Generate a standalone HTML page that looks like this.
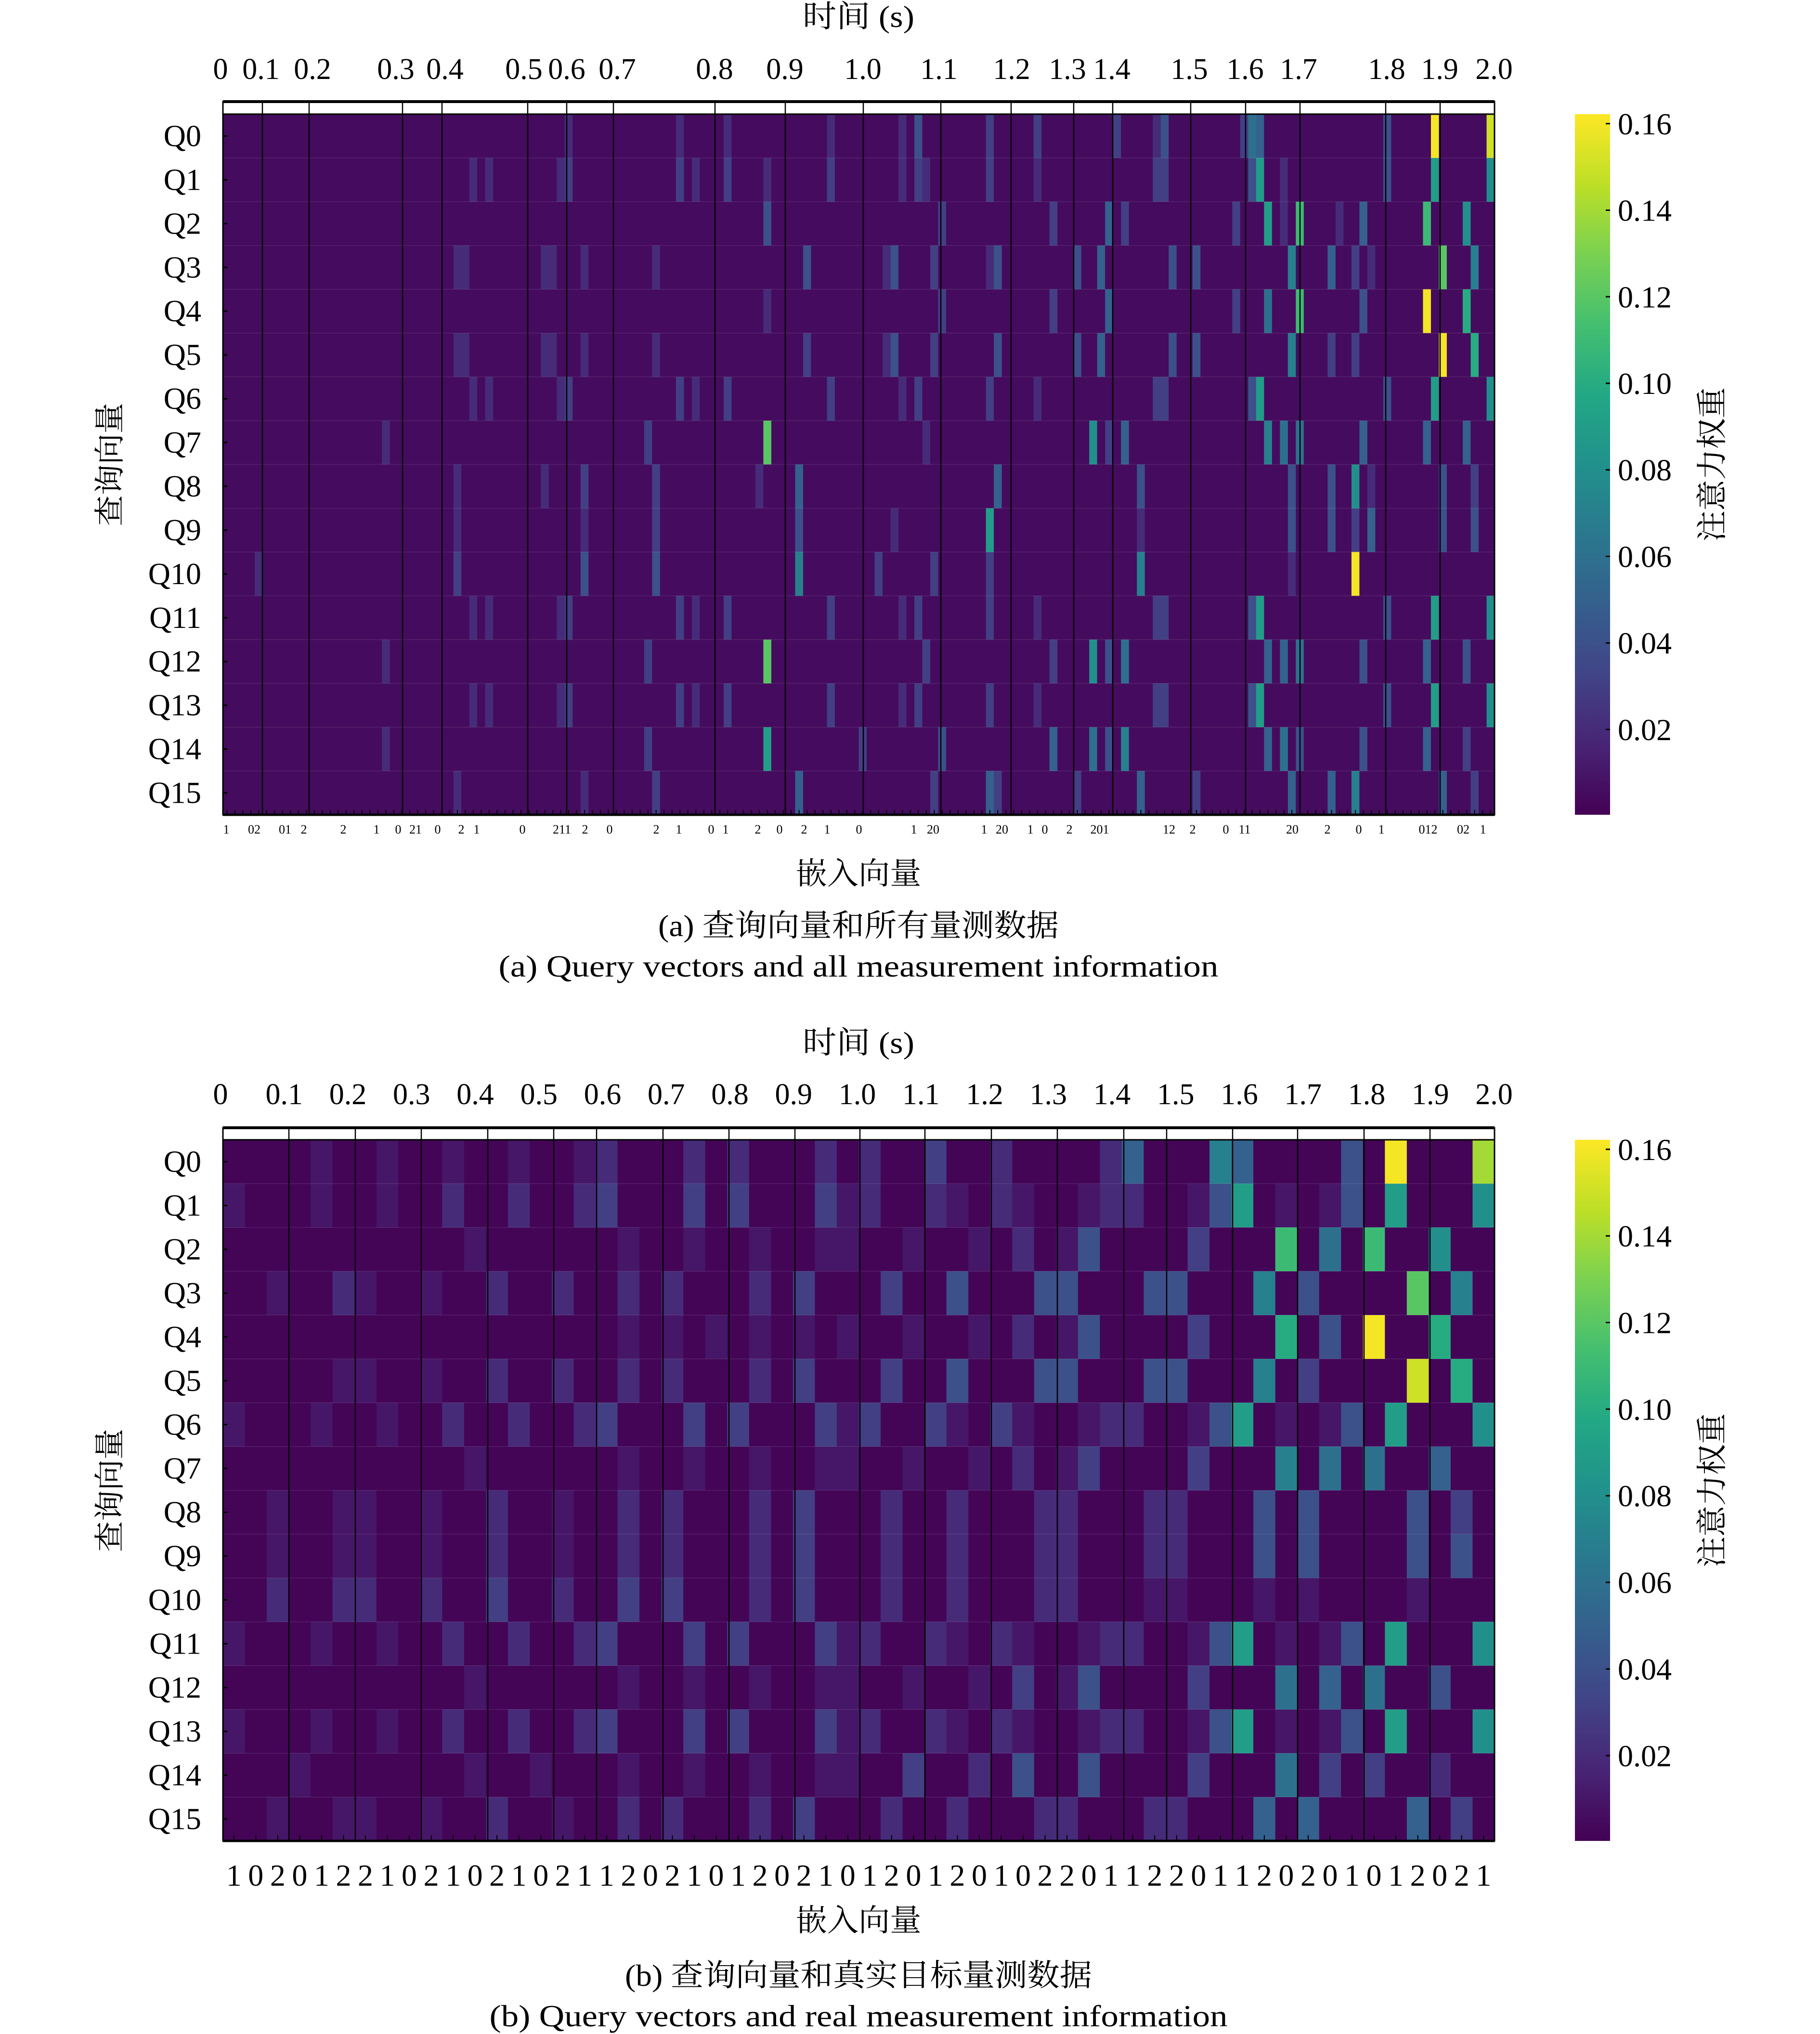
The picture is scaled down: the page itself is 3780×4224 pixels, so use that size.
<!DOCTYPE html>
<html><head><meta charset="utf-8">
<style>
html,body{margin:0;padding:0;background:#fff;}
svg{display:block;}
text{font-family:"Liberation Serif","Noto Serif CJK SC",serif;fill:#000;}
</style></head>
<body>
<svg id="fig" xmlns="http://www.w3.org/2000/svg" width="3780" height="4224" viewBox="0 0 3780 4224">
<defs><linearGradient id="vir" x1="0" y1="1" x2="0" y2="0"></linearGradient></defs>
</svg>
<script>
// ---------- data ----------
const queryLabels = ["Q0","Q1","Q2","Q3","Q4","Q5","Q6","Q7","Q8","Q9","Q10","Q11","Q12","Q13","Q14","Q15"];
const cbTicks = [0.02,0.04,0.06,0.08,0.10,0.12,0.14,0.16];
const vmin = 0.0003, vmax = 0.1622;

// panel (a): 160 embedding columns, baseline weight + notable cells [col, weight]
const nColsA = 160;
const baseA = 0.005;
const rowA0  = [[43,.02],[57,.02],[63,.02],[76,.02],[85,.02],[87,.04],[96,.03],[102,.03],[112,.03],[117,.02],[118,.04],[128,.03],[129,.06],[130,.05],[146,.04],[152,.16],[159,.15]];
const rowA1  = [[31,.02],[33,.02],[42,.02],[43,.03],[57,.03],[59,.02],[63,.03],[68,.02],[76,.03],[85,.02],[87,.03],[88,.02],[96,.03],[102,.02],[117,.03],[118,.03],[129,.04],[130,.09],[133,.02],[146,.04],[152,.09],[159,.08]];
const rowA2  = [[68,.04],[90,.03],[104,.03],[111,.05],[113,.03],[127,.03],[131,.09],[133,.02],[135,.11],[140,.02],[143,.05],[151,.11],[156,.08]];
const rowA3  = [[29,.02],[30,.02],[40,.02],[41,.02],[45,.02],[54,.02],[73,.04],[83,.02],[84,.04],[89,.03],[96,.02],[97,.04],[107,.04],[110,.05],[119,.04],[122,.04],[134,.07],[139,.05],[142,.03],[144,.02],[153,.12],[157,.07]];
const rowA4  = [[68,.02],[90,.03],[104,.03],[111,.05],[127,.03],[131,.06],[135,.11],[143,.04],[151,.16],[156,.10]];
const rowA5  = [[29,.02],[30,.02],[40,.02],[41,.02],[45,.02],[54,.02],[73,.03],[83,.02],[84,.04],[89,.03],[97,.04],[107,.04],[110,.05],[119,.04],[122,.04],[134,.07],[139,.03],[142,.03],[153,.16],[157,.10]];
const rowA6  = [[31,.02],[33,.02],[42,.02],[43,.03],[57,.03],[59,.02],[63,.03],[76,.03],[85,.02],[87,.03],[96,.03],[102,.02],[117,.03],[118,.03],[129,.04],[130,.09],[146,.04],[152,.09],[159,.08]];
const rowA7  = [[20,.02],[53,.03],[68,.12],[88,.02],[109,.08],[111,.03],[113,.05],[131,.07],[133,.06],[135,.06],[143,.05],[151,.05],[156,.05]];
const rowA8  = [[29,.02],[40,.02],[45,.03],[54,.03],[67,.02],[72,.05],[97,.05],[115,.04],[134,.04],[139,.04],[142,.08],[144,.02],[153,.04],[157,.03]];
const rowA9  = [[29,.02],[45,.02],[54,.03],[72,.04],[84,.02],[96,.09],[115,.02],[134,.04],[139,.04],[142,.03],[144,.05],[153,.04],[157,.04]];
const rowA10 = [[4,.02],[29,.03],[45,.04],[54,.04],[72,.07],[82,.03],[89,.03],[96,.03],[115,.07],[134,.02],[142,.16]];
const rowA11 = [[31,.02],[33,.02],[42,.02],[43,.03],[57,.03],[59,.02],[63,.03],[76,.03],[85,.02],[87,.03],[96,.03],[102,.02],[117,.03],[118,.03],[129,.04],[130,.09],[146,.04],[152,.09],[159,.08]];
const rowA12 = [[20,.02],[53,.03],[68,.12],[88,.03],[104,.03],[109,.08],[111,.04],[113,.06],[131,.05],[133,.05],[135,.06],[143,.04],[151,.05],[156,.04]];
const rowA13 = [[31,.02],[33,.02],[42,.02],[43,.03],[57,.03],[59,.02],[63,.03],[76,.03],[85,.02],[87,.03],[96,.03],[102,.02],[117,.03],[118,.03],[129,.04],[130,.09],[146,.04],[152,.09],[159,.08]];
const rowA14 = [[20,.02],[53,.03],[68,.09],[80,.03],[90,.04],[104,.05],[109,.06],[111,.04],[113,.07],[131,.05],[133,.06],[135,.04],[143,.04],[151,.05],[156,.03]];
const rowA15 = [[29,.02],[45,.02],[54,.03],[72,.05],[89,.03],[96,.05],[97,.03],[107,.03],[115,.05],[122,.03],[134,.05],[139,.05],[142,.07],[153,.05],[157,.03]];
const rowsA = [rowA0,rowA1,rowA2,rowA3,rowA4,rowA5,rowA6,rowA7,rowA8,rowA9,rowA10,rowA11,rowA12,rowA13,rowA14,rowA15];
const timeLabelsA = ["0","0.1","0.2","0.3","0.4","0.5","0.6","0.7","0.8","0.9","1.0","1.1","1.2","1.3","1.4","1.5","1.6","1.7","1.8","1.9","2.0"];
const embLabelsA = [["1",470],["02",528],["01",592],["2",631],["2",713],["1",782],["0",827],["21",863],["0",909],["2",958],["1",990],["0",1085],["211",1167],["2",1215],["0",1266],["2",1363],["1",1410],["0",1477],["1",1507],["2",1574],["0",1619],["2",1670],["1",1718],["0",1784],["1",1898],["20",1938],["1",2044],["20",2081],["1",2140],["0",2170],["2",2221],["201",2284],["12",2428],["2",2477],["0",2546],["11",2585],["20",2684],["2",2757],["0",2822],["1",2869],["012",2966],["02",3039],["1",3080]];

// panel (b): 58 columns, codes per cell: 0 = ~0.002, 1-9 = 0.01-0.09, a-g = 0.10-0.16
const rowB0  = "00001001001001001200020200020"+"200300200002500075000040g000e";
const rowB1  = "10001001002002002300030300031"+"20021021001220014901014090008";
const rowB2  = "00000000000100000010010010011"+"0010010201400003000b060b00800";
const rowB3  = "00100210010020020020200020300"+"0300400044000440007040000c070";
const rowB4  = "00000000000000000010101010101"+"0010010201400003000a040g00a00";
const rowB5  = "00000110010020020020200020300"+"0300400044000440007030000f0a0";
const rowB6  = "10001001002002002300030300031"+"30031031001220014901014090008";
const rowB7  = "00000000000100000010010010011"+"00100102013000030007060600500";
const rowB8  = "00100110010020010020200020300"+"02002000220002200040400004030";
const rowB9  = "00100110010020010020200020300"+"02002000220002200040400004040";
const rowB10 = "00200220020030020030300020300"+"02002000220001100010100001000";
const rowB11 = "10001001002002002300030300031"+"20021021001220014901014090008";
const rowB12 = "00000000000100000010010010011"+"00100103014000030006050600400";
const rowB13 = "10001001002002002300030300031"+"20021021001220014901014090008";
const rowB14 = "00010000000100100010010010011"+"00300204004000030006030300200";
const rowB15 = "00100110010020010020200020300"+"02002000220002200050500005030";
const rowsB = [rowB0,rowB1,rowB2,rowB3,rowB4,rowB5,rowB6,rowB7,rowB8,rowB9,rowB10,rowB11,rowB12,rowB13,rowB14,rowB15];
const embLabelsB = "1020122102102102112021012021012012010220112201120201012021".split("");
const timeLabelsB = ["0","0.1","0.2","0.3","0.4","0.5","0.6","0.7","0.8","0.9","1.0","1.1","1.2","1.3","1.4","1.5","1.6","1.7","1.8","1.9","2.0"];

// ---------- helpers ----------
const NS="http://www.w3.org/2000/svg";
const svg=document.getElementById("fig");
const VIR=["#440154","#482475","#414487","#355f8d","#2a788e","#21918c","#22a884","#44bf70","#7ad151","#bddf26","#fde725"];
function hx(c){return [parseInt(c.slice(1,3),16),parseInt(c.slice(3,5),16),parseInt(c.slice(5,7),16)];}
function viridis(v){
  if(!(v>=0)) v=0.002;
  let t=(v-vmin)/(vmax-vmin); t=Math.max(0,Math.min(1,t));
  const p=t*10, i=Math.min(9,Math.floor(p)), f=p-i;
  const a=hx(VIR[i]), b=hx(VIR[i+1]);
  return "rgb("+a.map((x,k)=>Math.round(x+(b[k]-x)*f)).join(",")+")";
}
function el(tag,attrs,parent){const e=document.createElementNS(NS,tag);for(const k in attrs)e.setAttribute(k,attrs[k]);(parent||svg).appendChild(e);return e;}
function txt(s,x,y,size,anchor,parent,len){const t=el("text",{x:x,y:y,"font-size":size,"text-anchor":anchor||"middle"},parent);if(len){t.setAttribute("textLength",len);t.setAttribute("lengthAdjust","spacingAndGlyphs");}t.textContent=s;return t;}
function code2val(c){if(!c||c==="0")return 0.002;const n=parseInt(c,17);return isNaN(n)?0.002:n*0.01;}

const grad=document.getElementById("vir");
for(let i=0;i<=10;i++){el("stop",{offset:(i*10)+"%","stop-color":VIR[i]},grad);}

function drawPanel(P){
  const g=el("g",{});
  
  
  const W=P.x1-P.x0, H=P.y1-P.y0, cw=W/P.ncol, rh=H/16;
  const xCol=c=>P.x0+c*cw, yRow=r=>P.y0+r*rh;
  const cells=el("g",{},g);
  
  
  for(let r=0;r<16;r++){
    const vals=P.rowValues(r);
    for(let c=0;c<P.ncol;c++){
      const rc=el("rect",{x:xCol(c).toFixed(2),y:yRow(r).toFixed(2),width:(cw+0.6).toFixed(2),height:(rh+0.6).toFixed(2),fill:viridis(vals[c])},cells);
      
      
    }
  }
  for(let r=1;r<16;r++) el("line",{x1:P.x0,x2:P.x1,y1:yRow(r),y2:yRow(r),stroke:"rgba(255,255,255,0.08)","stroke-width":2},g);
  const strip=el("rect",{x:P.x0,y:P.sy,width:W,height:P.y0-P.sy,fill:"#fff",stroke:"#000","stroke-width":3},g);
  
  
  el("line",{x1:P.x0,x2:P.x1,y1:P.sy,y2:P.sy,stroke:"#000","stroke-width":6},g);
  P.lines.forEach(x=>{
    const ln=el("line",{x1:x,x2:x,y1:P.sy,y2:P.y1,stroke:"#000","stroke-width":2.5},g);
    
    
  });
  el("rect",{x:P.x0,y:P.y0,width:W,height:H,fill:"none",stroke:"#000","stroke-width":3},g);
  el("line",{x1:P.x0,x2:P.x1,y1:P.y1,y2:P.y1,stroke:"#000","stroke-width":5},g);
  queryLabels.forEach((q,r)=>{
    const yc=yRow(r)+rh/2;
    el("line",{x1:P.x0,x2:P.x0+9,y1:yc,y2:yc,stroke:"#000","stroke-width":3},g);
    const t=txt(q,418,yc+21,64,"end",g);
    
    
  });
  for(let c=0;c<P.ncol;c++){const xc=xCol(c)+cw/2;el("line",{x1:xc,x2:xc,y1:P.y1,y2:P.y1-(P.ncol>100?10:12),stroke:"#000","stroke-width":2},g);}
  P.timeLabels.forEach((s,i)=>{
    const t=txt(s,P.timeX(i),P.timeY,62,"middle",g);
    
    
  });
  P.embLabels(g, xCol, cw);
  const tt=txt("时间 (s)",1783,P.titleY,64,"middle",g,232);
  
  
  const xt=txt("嵌入向量",1783,P.xTitleY,64,"middle",g,261);
  
  
  const yt=txt("查询向量",0,0,64,"middle",g);
  yt.setAttribute("transform","translate(250,"+((P.y0+P.y1)/2)+") rotate(-90)");
  
  
  const cb=el("rect",{x:3271,y:P.y0,width:73,height:H,fill:"url(#vir)"},g);
  
  
  const cy=v=>P.y0+(vmax-v)/(vmax-vmin)*H;
  cbTicks.forEach(v=>{
    const y=cy(v);
    el("line",{x1:3335,x2:3344,y1:y,y2:y,stroke:"#000","stroke-width":3},g);
    const t=txt(v.toFixed(2),3360,y+22,64,"start",g);
    
    
  });
  const ct=txt("注意力权重",0,0,64,"middle",g);
  ct.setAttribute("transform","translate(3578,"+((P.y0+P.y1)/2)+") rotate(-90)");
  
  
  const c1=txt(P.cap1,1783,P.capY1,64,"middle",g,P.capL1);
  
  
  const c2=txt(P.cap2,1783,P.capY2,64,"middle",g,P.capL2);
  
  
}

const timeXA=[458,542,649,822,924,1088,1177,1282,1484,1630,1792,1950,2101,2217,2309,2470,2586,2697,2880,2990,3103];
drawPanel({
  name:"panel-a",x0:463,x1:3104,y0:237,y1:1692,sy:211,ncol:nColsA,
  rowValues:r=>{const a=new Array(nColsA).fill(baseA);rowsA[r].forEach(p=>{a[p[0]]=p[1];});return a;},
  lines:[545,642,836,918,1096,1177,1274,1485,1631,1793,1954,2100,2230,2311,2473,2587,2700,2878,2991],
  timeLabels:timeLabelsA,timeX:i=>timeXA[i],timeY:164,titleY:56,
  embLabels:(g)=>{embLabelsA.forEach(p=>{const t=txt(p[0],p[1],1731,26,"middle",g);});},
  xTitleY:1836,cap1:"(a) 查询向量和所有量测数据",cap2:"(a) Query vectors and all measurement information",capY1:1944,capY2:2028,capL1:832,capL2:1495
});
drawPanel({
  name:"panel-b",x0:463,x1:3104,y0:2367,y1:3823,sy:2342,ncol:58,
  rowValues:r=>{const s=(rowsB[r]+"0".repeat(58)).slice(0,58);return s.split("").map(code2val);},
  lines:[600,738,875,1013,1150,1239,1377,1514,1651,1786,1921,2059,2196,2334,2423,2560,2695,2833,2970],
  timeLabels:timeLabelsB,timeX:i=>458+i*(3103-458)/20,timeY:2293,titleY:2187,
  embLabels:(g,xCol,cw)=>{embLabelsB.forEach((s,c)=>{const t=txt(s,xCol(c)+cw/2,3916,64,"middle",g);});},
  xTitleY:4010,cap1:"(b) 查询向量和真实目标量测数据",cap2:"(b) Query vectors and real measurement information",capY1:4124,capY2:4208,capL1:970,capL2:1533
});
</script>
</body></html>
